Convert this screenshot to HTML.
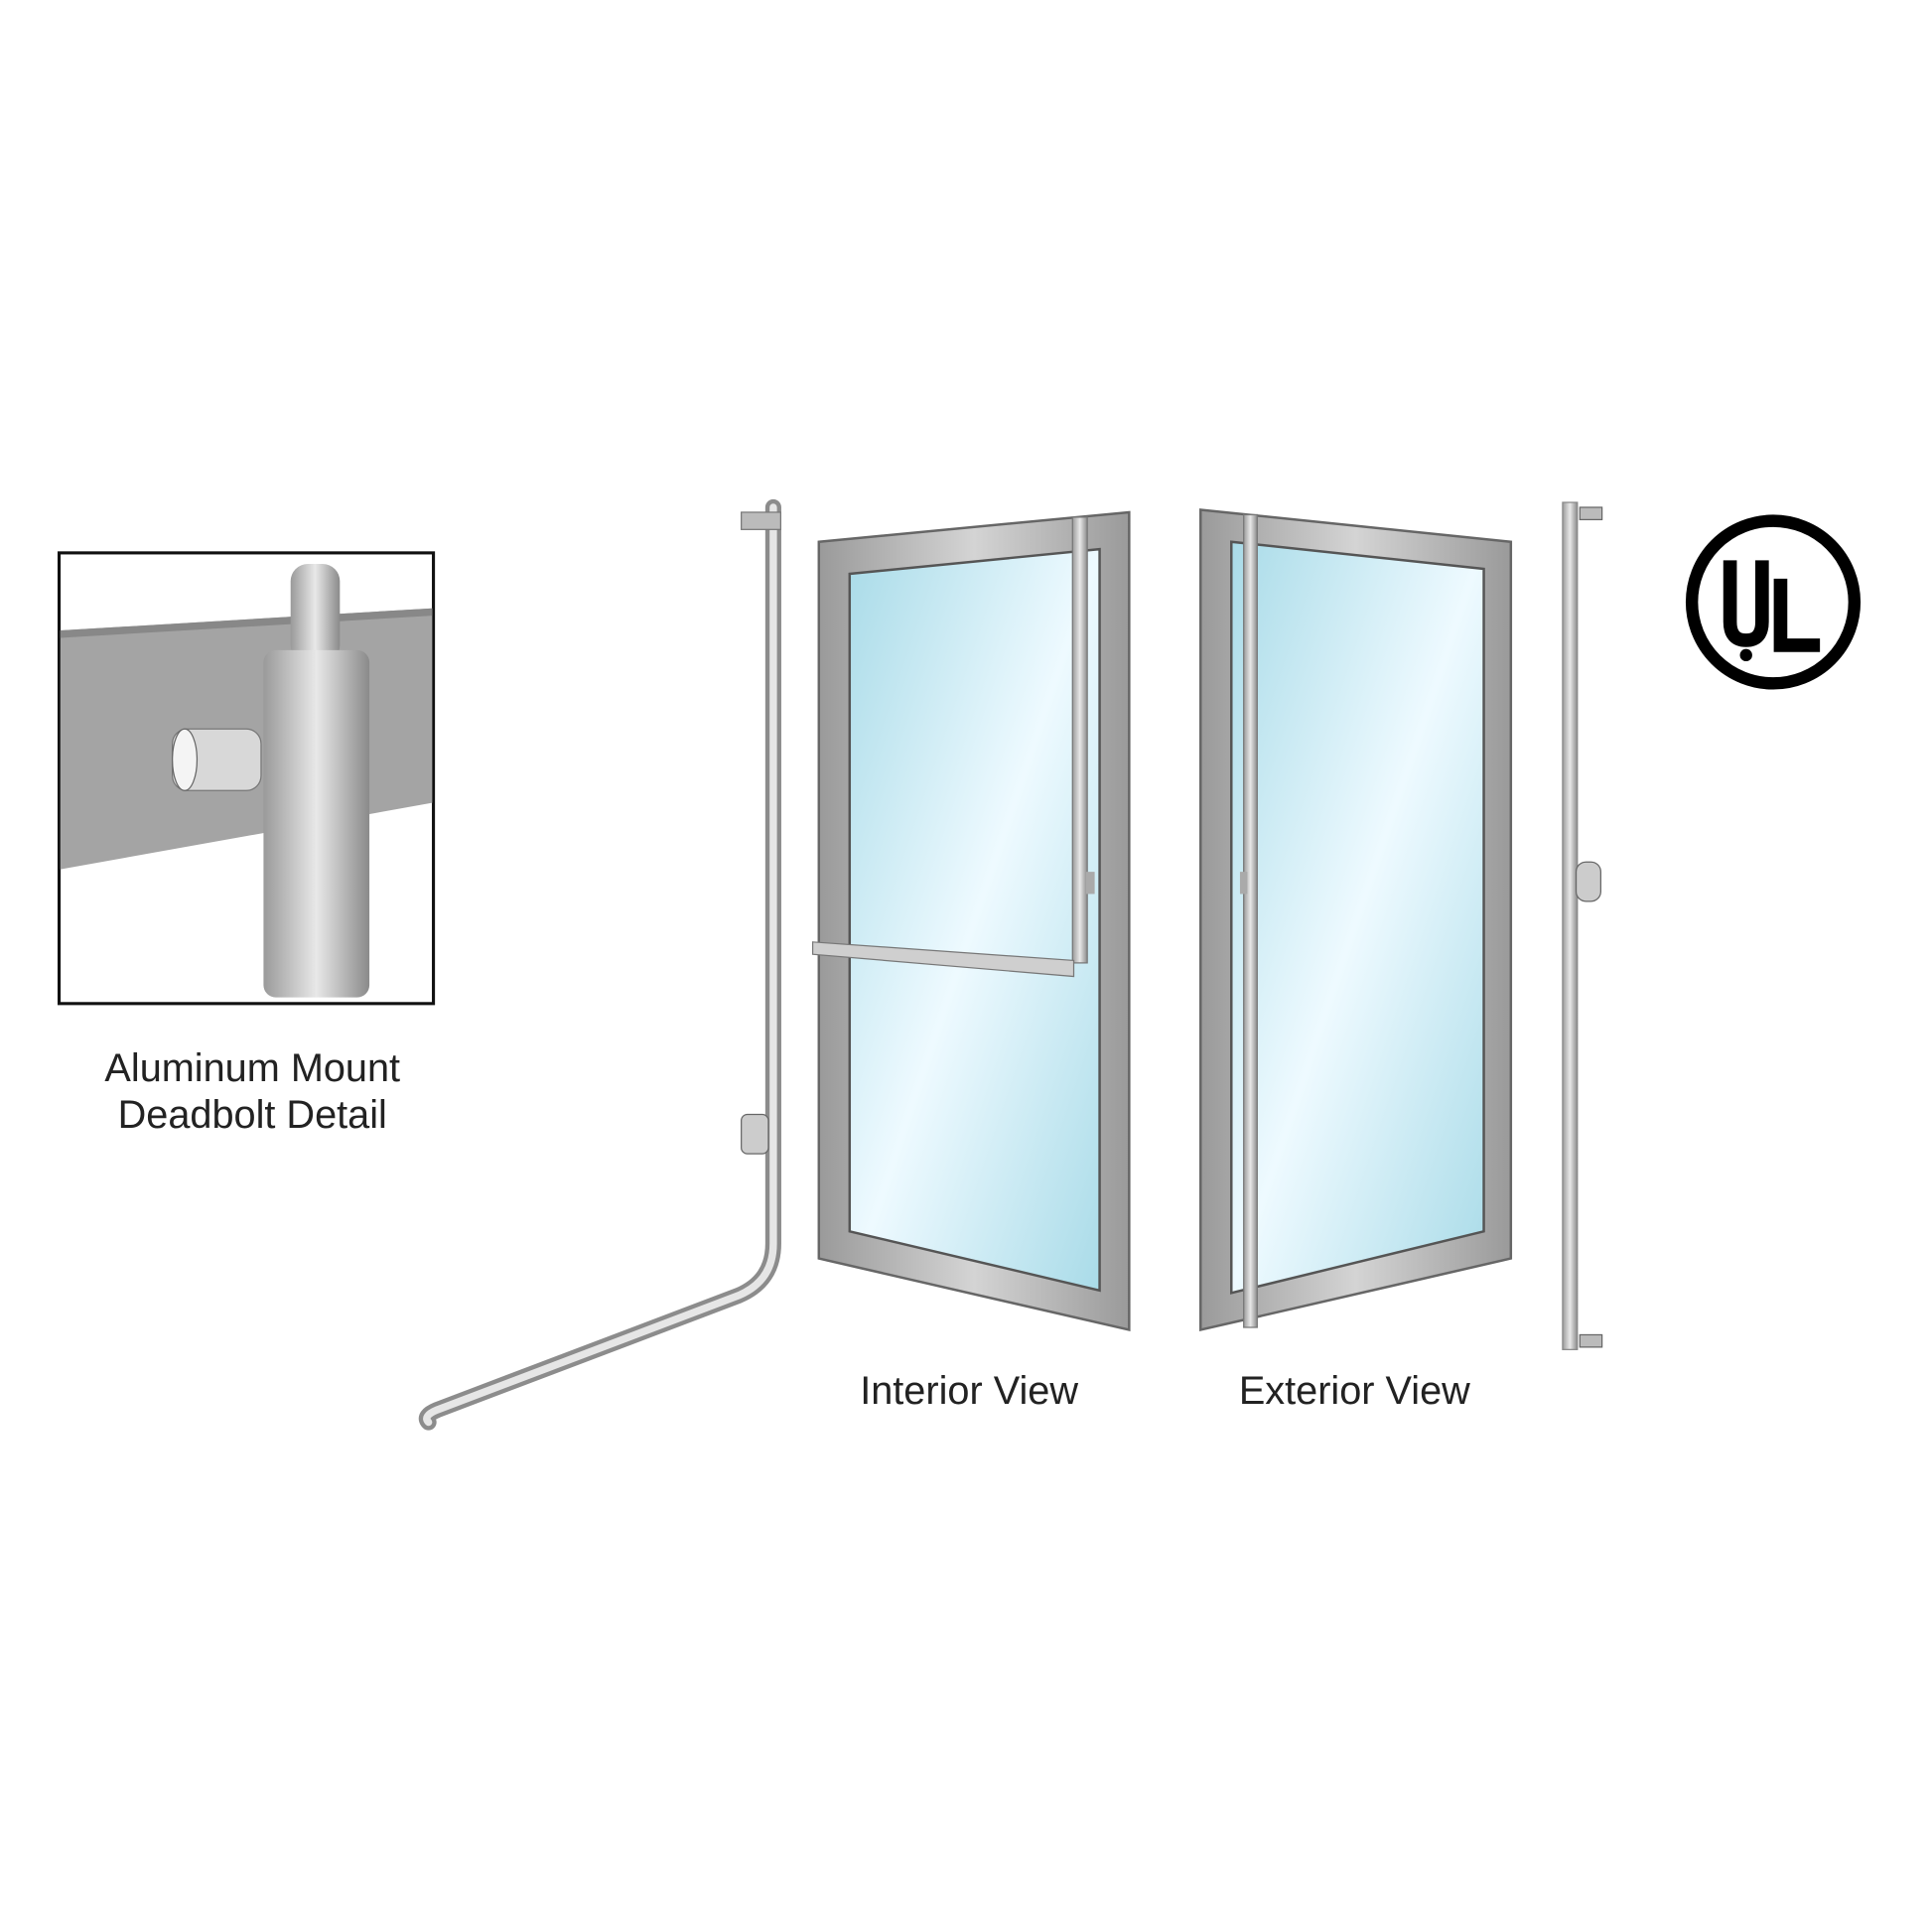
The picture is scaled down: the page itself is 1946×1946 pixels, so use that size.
<!DOCTYPE html>
<html><head><meta charset="utf-8"><style>
html,body{margin:0;padding:0;background:#fff;width:1946px;height:1946px;overflow:hidden}
svg{display:block}
text{font-family:"Liberation Sans",sans-serif;fill:#222}
</style></head><body>
<svg width="1946" height="1946" viewBox="0 0 1569 1569" xmlns="http://www.w3.org/2000/svg">
<defs>
<linearGradient id="glass" x1="0" y1="0" x2="1" y2="1">
<stop offset="0" stop-color="#a9dbe8"/><stop offset="0.5" stop-color="#eefaff"/><stop offset="1" stop-color="#a9dbe8"/>
</linearGradient>
<linearGradient id="rod" x1="0" y1="0" x2="1" y2="0">
<stop offset="0" stop-color="#9a9a9a"/><stop offset="0.5" stop-color="#e8e8e8"/><stop offset="1" stop-color="#8a8a8a"/>
</linearGradient>
<linearGradient id="frame" x1="0" y1="0" x2="1" y2="0">
<stop offset="0" stop-color="#9a9a9a"/><stop offset="0.5" stop-color="#d4d4d4"/><stop offset="1" stop-color="#9a9a9a"/>
</linearGradient>
</defs>

<rect x="48" y="449" width="304" height="366" fill="#fff" stroke="#111" stroke-width="2.5"/>
<polygon points="49,512 351,494 351,652 49,706" fill="#a4a4a4"/>
<polygon points="49,512 351,494 351,500 49,518" fill="#888"/>
<rect x="236" y="458" width="40" height="80" rx="14" fill="url(#rod)"/>
<rect x="214" y="528" width="86" height="282" rx="10" fill="url(#rod)"/>
<rect x="140" y="592" width="72" height="50" rx="12" fill="#d8d8d8" stroke="#777"/>
<ellipse cx="150" cy="617" rx="10" ry="25" fill="#f4f4f4" stroke="#666"/>
<text x="205" y="878" font-size="32" text-anchor="middle">Aluminum Mount</text>
<text x="205" y="916" font-size="32" text-anchor="middle">Deadbolt Detail</text>

<path d="M628 412 L628 1010 Q628 1040 600 1052 L355 1145 Q343 1150 348 1155" fill="none" stroke="#8c8c8c" stroke-width="13" stroke-linecap="round"/>
<path d="M628 412 L628 1010 Q628 1040 600 1052 L355 1145 Q343 1150 348 1155" fill="none" stroke="#e6e6e6" stroke-width="6" stroke-linecap="round"/>
<rect x="602" y="416" width="32" height="14" fill="#bbb" stroke="#777"/>
<rect x="602" y="905" width="22" height="32" rx="5" fill="#ccc" stroke="#666"/>

<polygon points="665,440 917,416 917,1080 665,1022" fill="url(#frame)" stroke="#666" stroke-width="2"/>
<polygon points="690,466 893,446 893,1048 690,1000" fill="url(#glass)" stroke="#555" stroke-width="2"/>
<rect x="871" y="420" width="12" height="362" fill="url(#rod)" stroke="#777"/>
<polygon points="660,765 872,780 872,793 660,775" fill="#cfcfcf" stroke="#777"/>
<rect x="882" y="708" width="7" height="18" fill="#aaa"/>
<text x="787" y="1140" font-size="32" text-anchor="middle">Interior View</text>

<polygon points="975,414 1227,440 1227,1022 975,1080" fill="url(#frame)" stroke="#666" stroke-width="2"/>
<polygon points="1000,440 1205,462 1205,1000 1000,1050" fill="url(#glass)" stroke="#555" stroke-width="2"/>
<rect x="1010" y="418" width="11" height="660" fill="url(#rod)" stroke="#777"/>
<rect x="1007" y="708" width="6" height="18" fill="#aaa"/>
<text x="1100" y="1140" font-size="32" text-anchor="middle">Exterior View</text>

<rect x="1269" y="408" width="12" height="688" fill="url(#rod)" stroke="#888"/>
<rect x="1283" y="412" width="18" height="10" fill="#bbb" stroke="#666"/>
<rect x="1283" y="1084" width="18" height="10" fill="#bbb" stroke="#666"/>
<rect x="1280" y="700" width="20" height="32" rx="8" fill="#ccc" stroke="#666"/>

<circle cx="1440" cy="489" r="66" fill="#fff" stroke="#000" stroke-width="10"/>
<path d="M1405 455 L1405 505 Q1405 520 1418 520 Q1431 520 1431 505 L1431 455" fill="none" stroke="#000" stroke-width="11"/>
<circle cx="1418" cy="532" r="5" fill="#000"/>
<path d="M1446 470 L1446 524 L1478 524" fill="none" stroke="#000" stroke-width="11"/>
</svg>
</body></html>
